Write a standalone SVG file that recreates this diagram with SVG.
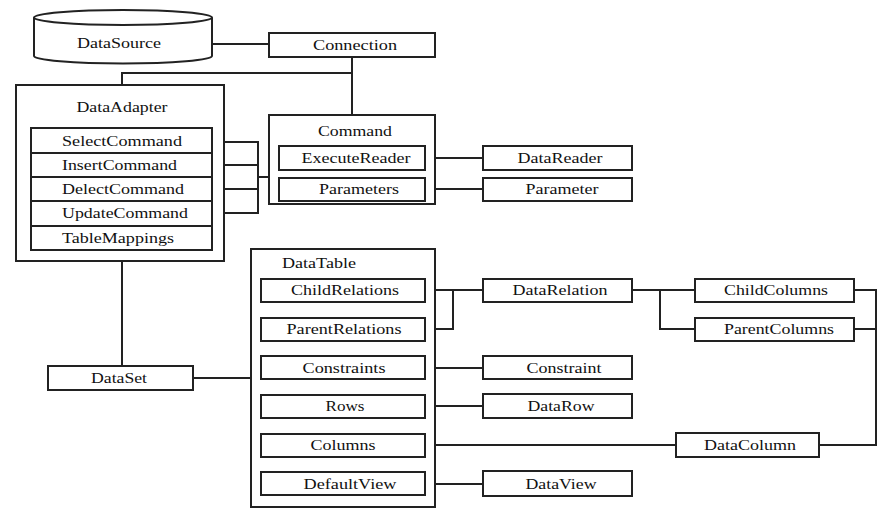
<svg xmlns="http://www.w3.org/2000/svg" width="887" height="517" viewBox="0 0 887 517">
<style>
rect{fill:#fff;stroke:#222;stroke-width:2}
.c line, .c polyline{fill:none;stroke:#222;stroke-width:2}
text{font-family:'Liberation Serif','DejaVu Serif',serif;font-size:15px;fill:#111;text-anchor:middle}
.l{text-anchor:start}
</style>
<rect x="0" y="0" width="887" height="517" style="stroke:none"/>
<g class="c" id="connectors">
<line x1="212" y1="44" x2="269" y2="44"/>
<polyline points="352,57 352,115"/>
<polyline points="122,85 122,73 352,73"/>
<polyline points="212,142 258,142"/>
<polyline points="212,165 258,165"/>
<polyline points="212,189 258,189"/>
<polyline points="212,213 258,213"/>
<line x1="258" y1="141" x2="258" y2="214"/>
<line x1="258" y1="177" x2="269" y2="177"/>
<line x1="425" y1="158" x2="483" y2="158"/>
<line x1="425" y1="189" x2="483" y2="189"/>
<line x1="122" y1="261" x2="122" y2="366"/>
<line x1="193" y1="378" x2="251" y2="378"/>
<polyline points="425,290 453,290"/>
<polyline points="425,329 453,329 453,290"/>
<line x1="453" y1="290" x2="483" y2="290"/>
<line x1="632" y1="290" x2="695" y2="290"/>
<polyline points="660,290 660,329 695,329"/>
<polyline points="854,290 876,290 876,445 819,445"/>
<line x1="854" y1="329" x2="876" y2="329"/>
<line x1="425" y1="368" x2="483" y2="368"/>
<line x1="425" y1="406" x2="483" y2="406"/>
<line x1="425" y1="445" x2="676" y2="445"/>
<line x1="425" y1="484" x2="483" y2="484"/>
</g>
<g id="DataSource">
<path d="M34,17.5 L34,56 A89,7.5 0 0 0 212,56 L212,17.5" fill="#fff" stroke="#222" stroke-width="2"/>
<ellipse cx="123" cy="17.5" rx="89" ry="7.5" fill="#fff" stroke="#222" stroke-width="2"/>
<text x="119" y="48" textLength="84" lengthAdjust="spacingAndGlyphs">DataSource</text>
</g>
<g id="Connection">
<rect x="269" y="33" width="166" height="24"/>
<text x="355" y="50" textLength="84" lengthAdjust="spacingAndGlyphs">Connection</text>
</g>
<g id="DataAdapter">
<rect x="16" y="85" width="208" height="176"/>
<text x="122" y="112" textLength="91" lengthAdjust="spacingAndGlyphs">DataAdapter</text>
<rect x="31" y="128" width="181" height="122"/>
<line x1="31" y1="153" x2="212" y2="153" stroke="#222" stroke-width="2"/>
<line x1="31" y1="177" x2="212" y2="177" stroke="#222" stroke-width="2"/>
<line x1="31" y1="201" x2="212" y2="201" stroke="#222" stroke-width="2"/>
<line x1="31" y1="226" x2="212" y2="226" stroke="#222" stroke-width="2"/>
<text class="l" x="62" y="146" textLength="120" lengthAdjust="spacingAndGlyphs">SelectCommand</text>
<text class="l" x="62" y="170" textLength="115" lengthAdjust="spacingAndGlyphs">InsertCommand</text>
<text class="l" x="62" y="194" textLength="122" lengthAdjust="spacingAndGlyphs">DelectCommand</text>
<text class="l" x="62" y="218" textLength="126" lengthAdjust="spacingAndGlyphs">UpdateCommand</text>
<text class="l" x="62" y="243" textLength="112" lengthAdjust="spacingAndGlyphs">TableMappings</text>
</g>
<g id="Command">
<rect x="269" y="115" width="166" height="89"/>
<text x="355" y="136" textLength="74" lengthAdjust="spacingAndGlyphs">Command</text>
<rect x="279" y="146" width="146" height="24"/>
<text x="356" y="163" textLength="109" lengthAdjust="spacingAndGlyphs">ExecuteReader</text>
<rect x="279" y="178" width="146" height="23"/>
<text x="359" y="194" textLength="80" lengthAdjust="spacingAndGlyphs">Parameters</text>
</g>
<g id="DataReader">
<rect x="483" y="146" width="149" height="24"/>
<text x="560" y="163" textLength="85" lengthAdjust="spacingAndGlyphs">DataReader</text>
</g>
<g id="Parameter">
<rect x="483" y="178" width="149" height="23"/>
<text x="562" y="194" textLength="73" lengthAdjust="spacingAndGlyphs">Parameter</text>
</g>
<g id="DataSet">
<rect x="48" y="366" width="145" height="24"/>
<text x="119" y="383" textLength="56" lengthAdjust="spacingAndGlyphs">DataSet</text>
</g>
<g id="DataTable">
<rect x="251" y="249" width="184" height="258"/>
<text class="l" x="282" y="268" textLength="74" lengthAdjust="spacingAndGlyphs">DataTable</text>
<rect x="261" y="279" width="164" height="23"/>
<text x="345" y="295" textLength="108" lengthAdjust="spacingAndGlyphs">ChildRelations</text>
<rect x="261" y="318" width="164" height="23"/>
<text x="344" y="334" textLength="115" lengthAdjust="spacingAndGlyphs">ParentRelations</text>
<rect x="261" y="356" width="164" height="23"/>
<text x="344" y="373" textLength="83" lengthAdjust="spacingAndGlyphs">Constraints</text>
<rect x="261" y="395" width="164" height="23"/>
<text x="345" y="411" textLength="39" lengthAdjust="spacingAndGlyphs">Rows</text>
<rect x="261" y="434" width="164" height="23"/>
<text x="343" y="450" textLength="65" lengthAdjust="spacingAndGlyphs">Columns</text>
<rect x="261" y="472" width="164" height="23"/>
<text x="350" y="489" textLength="93" lengthAdjust="spacingAndGlyphs">DefaultView</text>
</g>
<g id="DataRelation">
<rect x="483" y="279" width="149" height="23"/>
<text x="560" y="295" textLength="95" lengthAdjust="spacingAndGlyphs">DataRelation</text>
</g>
<g id="ChildColumns">
<rect x="695" y="279" width="159" height="23"/>
<text x="776" y="295" textLength="104" lengthAdjust="spacingAndGlyphs">ChildColumns</text>
</g>
<g id="ParentColumns">
<rect x="695" y="318" width="159" height="23"/>
<text x="779" y="334" textLength="110" lengthAdjust="spacingAndGlyphs">ParentColumns</text>
</g>
<g id="Constraint">
<rect x="483" y="356" width="149" height="23"/>
<text x="564" y="373" textLength="75" lengthAdjust="spacingAndGlyphs">Constraint</text>
</g>
<g id="DataRow">
<rect x="483" y="394" width="149" height="24"/>
<text x="561" y="411" textLength="67" lengthAdjust="spacingAndGlyphs">DataRow</text>
</g>
<g id="DataColumn">
<rect x="676" y="433" width="143" height="24"/>
<text x="750" y="450" textLength="92" lengthAdjust="spacingAndGlyphs">DataColumn</text>
</g>
<g id="DataView">
<rect x="483" y="471" width="149" height="25"/>
<text x="561" y="489" textLength="71" lengthAdjust="spacingAndGlyphs">DataView</text>
</g>
</svg>
